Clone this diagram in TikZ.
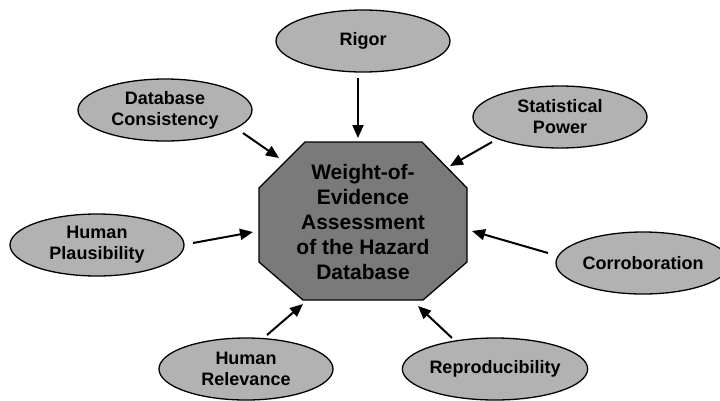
\documentclass[tikz,border=0pt]{standalone}
\usepackage{fontspec}
\setmainfont{Liberation Sans}
\usetikzlibrary{shapes.geometric,arrows.meta}
\begin{document}
\begin{tikzpicture}[x=1pt,y=-1pt,
  factor/.style={ellipse, draw=black, line width=1.3pt, fill=black!30,
    minimum width=174pt, minimum height=62pt, inner sep=0pt, align=center,
    font=\fontsize{18}{21}\selectfont\bfseries},
  hubshape/.style={draw=black, line width=1.3pt, fill=black!52},
  hubtext/.style={align=center, inner sep=0pt, font=\fontsize{21}{25}\selectfont\bfseries},
  arr/.style={-{Triangle[length=13pt,width=11pt]}, line width=2pt}]
\useasboundingbox (0,0) rectangle (720,400);
% central octagon
\draw[hubshape] (305,142) -- (422,142) -- (467,188) -- (467,262) -- (423,300)
  -- (303,300) -- (259,262) -- (259,188) -- cycle;
\node[hubtext] (hub) at (363,222) {Weight-of-\\Evidence\\Assessment\\of the Hazard\\Database};
% factors
\node[factor] (rigor) at (363,41) {Rigor};
\node[factor] (dbc) at (165,110) {Database\\Consistency};
\node[factor] (stat) at (560,117) {Statistical\\Power};
\node[factor] (plaus) at (97,245) {Human\\Plausibility};
\node[factor] (corr) at (643,263) {Corroboration};
\node[factor] (hrel) at (246,369) {Human\\Relevance};
\node[factor] (repro) at (495,369) {Reproducibility};
% arrow ends
\coordinate (rigorS) at (358,78);   \coordinate (rigorT) at (358,138);
\coordinate (dbcS) at (243,133);    \coordinate (dbcT) at (279,158);
\coordinate (statS) at (492,142);   \coordinate (statT) at (450,166);
\coordinate (plausS) at (193,243);  \coordinate (plausT) at (253,232);
\coordinate (corrS) at (548,253);   \coordinate (corrT) at (472,231);
\coordinate (hrelS) at (267,335);   \coordinate (hrelT) at (303,304);
\coordinate (reproS) at (452,338);  \coordinate (reproT) at (418,306);
\draw[arr] (rigorS) -- (rigorT);
\draw[arr] (dbcS) -- (dbcT);
\draw[arr] (statS) -- (statT);
\draw[arr] (plausS) -- (plausT);
\draw[arr] (corrS) -- (corrT);
\draw[arr] (hrelS) -- (hrelT);
\draw[arr] (reproS) -- (reproT);
\end{tikzpicture}
\end{document}
